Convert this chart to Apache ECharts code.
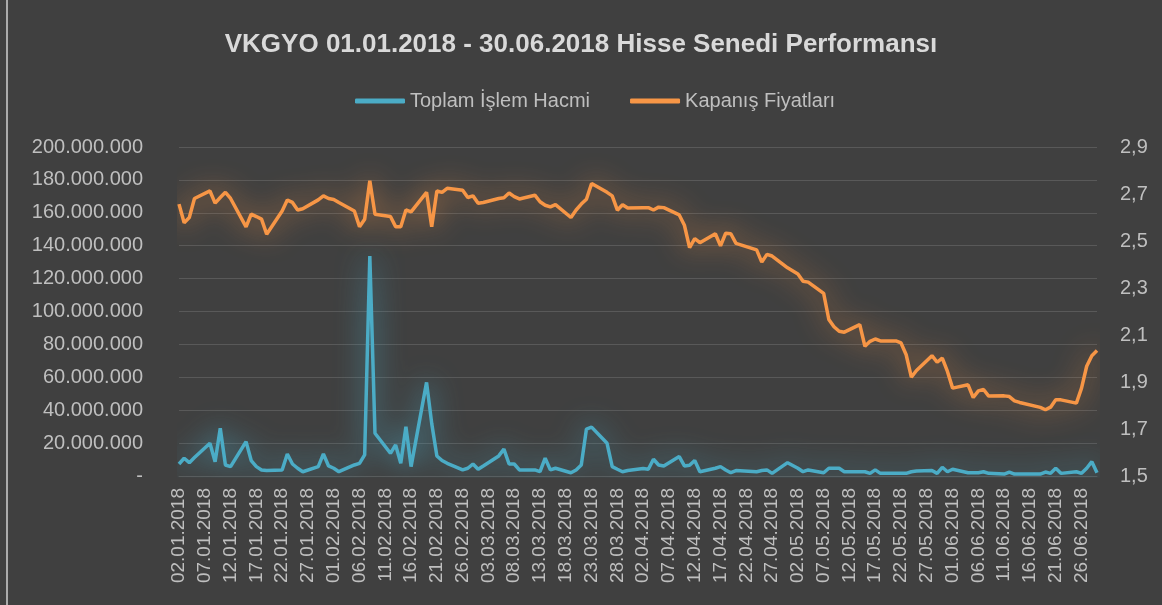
<!DOCTYPE html>
<html><head><meta charset="utf-8">
<script src="https://cdn.jsdelivr.net/npm/echarts@6/dist/echarts.min.js"></script>
<style>html,body{margin:0;padding:0;background:#404040}#c{width:1162px;height:605px}</style>
</head><body><div id="c"></div>
<script>
// Trading days (DD.MM.2018)
const tradingDates = [
'02.01','03.01','04.01','05.01','08.01','09.01','10.01','11.01','12.01','15.01','16.01','17.01','18.01','19.01','22.01','23.01','24.01','25.01','26.01','29.01','30.01','31.01',
'01.02','02.02','05.02','06.02','07.02','08.02','09.02','12.02','13.02','14.02','15.02','16.02','19.02','20.02','21.02','22.02','23.02','26.02','27.02','28.02',
'01.03','02.03','05.03','06.03','07.03','08.03','09.03','12.03','13.03','14.03','15.03','16.03','19.03','20.03','21.03','22.03','23.03','26.03','27.03','28.03','29.03','30.03',
'02.04','03.04','04.04','05.04','06.04','09.04','10.04','11.04','12.04','13.04','16.04','17.04','18.04','19.04','20.04','24.04','25.04','26.04','27.04','30.04',
'02.05','03.05','04.05','07.05','08.05','09.05','10.05','11.05','14.05','15.05','16.05','17.05','18.05','21.05','22.05','23.05','24.05','25.05','28.05','29.05','30.05','31.05',
'01.06','04.06','05.06','06.06','07.06','08.06','11.06','12.06','13.06','14.06','18.06','19.06','20.06','21.06','22.06','25.06','26.06','27.06','28.06','29.06'
];
// Toplam İşlem Hacmi (TL)
const volume = [
7300000,10800000,8100000,11200000,19900000,8700000,29000000,6700000,5700000,20900000,9400000,5700000,3700000,3300000,3700000,13400000,7300000,4700000,2600000,5700000,13400000,6100000,
4700000,2600000,6700000,7700000,12800000,133700000,26000000,13800000,18900000,7700000,30000000,5700000,56900000,32000000,12200000,9400000,7700000,3700000,4700000,7300000,
4100000,6100000,12200000,16300000,7300000,7300000,3700000,3700000,2600000,10800000,3700000,4700000,2000000,3700000,6700000,28500000,29700000,19900000,5700000,4100000,2600000,3300000,
4500000,4100000,10200000,6700000,6100000,11800000,6100000,6500000,9400000,2600000,4700000,5700000,3700000,2000000,3300000,2600000,3300000,3700000,1600000,8100000,
4700000,2600000,3700000,2000000,4700000,4700000,4700000,2600000,2600000,2600000,1600000,3700000,1600000,1600000,1600000,1600000,2600000,3000000,3300000,1600000,5300000,2600000,
4100000,2000000,2000000,2000000,2600000,1600000,1200000,2400000,1200000,1200000,1200000,2400000,1600000,4700000,1600000,2600000,1600000,4700000,8700000,2000000
];
// Kapanış Fiyatları (TL)
const closePrice = [
2.657,2.578,2.600,2.681,2.713,2.661,2.685,2.707,2.681,2.560,2.614,2.604,2.593,2.529,2.628,2.674,2.664,2.632,2.637,2.675,2.692,2.681,
2.677,2.664,2.628,2.561,2.593,2.756,2.614,2.604,2.561,2.561,2.632,2.624,2.707,2.561,2.713,2.707,2.724,2.716,2.685,2.692,
2.661,2.664,2.681,2.684,2.704,2.689,2.679,2.695,2.667,2.652,2.645,2.655,2.600,2.632,2.657,2.678,2.745,2.707,2.692,2.631,2.654,2.640,
2.642,2.642,2.632,2.644,2.642,2.611,2.567,2.472,2.510,2.493,2.531,2.479,2.533,2.531,2.490,2.462,2.410,2.443,2.436,2.386,
2.360,2.329,2.325,2.277,2.166,2.135,2.116,2.112,2.144,2.052,2.073,2.083,2.075,2.075,2.066,2.016,1.921,1.949,2.012,1.984,2.002,1.945,
1.874,1.888,1.834,1.862,1.868,1.840,1.841,1.838,1.820,1.813,1.792,1.782,1.793,1.824,1.824,1.810,1.874,1.967,2.012,2.034
];
const axisStart = '2018-01-02', axisEnd = '2018-06-29';
const leftTicks = {min: 0, max: 200000000, interval: 20000000};
const rightTicks = {min: 1.5, max: 2.9, interval: 0.2};

// build calendar categories
const pad = n => (n < 10 ? '0' : '') + n;
const categories = [];
for (let d = new Date(axisStart + 'T00:00:00Z'); d <= new Date(axisEnd + 'T00:00:00Z'); d.setUTCDate(d.getUTCDate() + 1)) {
  categories.push(pad(d.getUTCDate()) + '.' + pad(d.getUTCMonth() + 1) + '.' + d.getUTCFullYear());
}
const volMap = {}, priceMap = {};
tradingDates.forEach((t, i) => { volMap[t + '.2018'] = volume[i]; priceMap[t + '.2018'] = closePrice[i]; });
const volData = categories.map(c => (c in volMap ? volMap[c] : null));
const priceData = categories.map(c => (c in priceMap ? priceMap[c] : null));

const fmtThousands = v => v === 0 ? '-' : String(Math.round(v)).replace(/\B(?=(\d{3})+(?!\d))/g, '.');
const txt = '#bfbfbf', grid = '#595959', FONT = '"Liberation Sans", Arial, sans-serif';
const blue = '#4bacc6', orange = '#f79646';

const chart = echarts.init(document.getElementById('c'));
chart.setOption({
  backgroundColor: '#404040',
  animation: false,
  textStyle: {fontFamily: FONT},
  graphic: [{type: 'line', shape: {x1: 7, y1: 0, x2: 7, y2: 605}, style: {stroke: '#cfcfcf', lineWidth: 1.5}, silent: true}],
  title: {
    text: 'VKGYO 01.01.2018 - 30.06.2018 Hisse Senedi Performansı',
    left: 'center', top: 27,
    textStyle: {color: '#d9d9d9', fontSize: 26, fontWeight: 'bold', fontFamily: FONT}
  },
  legend: {
    left: 350, top: 86, itemWidth: 50, itemHeight: 5, itemGap: 40,
    icon: 'roundRect',
    textStyle: {color: txt, fontSize: 20, fontFamily: FONT, padding: [0, 0, 0, 0]},
    data: ['Toplam İşlem Hacmi', 'Kapanış Fiyatları']
  },
  grid: {left: 179, right: 65, top: 147, bottom: 129, containLabel: false},
  xAxis: {
    type: 'category', data: categories, boundaryGap: false,
    axisLine: {show: true, lineStyle: {color: grid}},
    axisTick: {show: false},
    axisLabel: {interval: 4, rotate: 90, color: txt, fontSize: 19, margin: 12, fontFamily: FONT},
    splitLine: {show: false}
  },
  yAxis: [
    {type: 'value', min: leftTicks.min, max: leftTicks.max, interval: leftTicks.interval,
     axisLine: {show: false}, axisTick: {show: false},
     axisLabel: {color: txt, fontSize: 20, margin: 36, formatter: fmtThousands, fontFamily: FONT},
     splitLine: {lineStyle: {color: grid, width: 1}}},
    {type: 'value', min: rightTicks.min, max: rightTicks.max, interval: rightTicks.interval,
     axisLine: {show: false}, axisTick: {show: false},
     axisLabel: {color: txt, fontSize: 20, margin: 23, formatter: v => v.toFixed(1).replace('.', ','), fontFamily: FONT},
     splitLine: {show: false}}
  ],
  series: [
    {name: 'Toplam İşlem Hacmi', type: 'line', yAxisIndex: 0, data: volData, connectNulls: true,
     showSymbol: false, color: blue,
     lineStyle: {color: blue, width: 3.5, shadowBlur: 28, shadowColor: 'rgba(75,172,198,0.9)'}},
    {name: 'Kapanış Fiyatları', type: 'line', yAxisIndex: 1, data: priceData, connectNulls: true,
     showSymbol: false, color: orange,
     lineStyle: {color: orange, width: 3.5, shadowBlur: 28, shadowColor: 'rgba(247,150,70,0.9)'}}
  ]
});
</script></body></html>
